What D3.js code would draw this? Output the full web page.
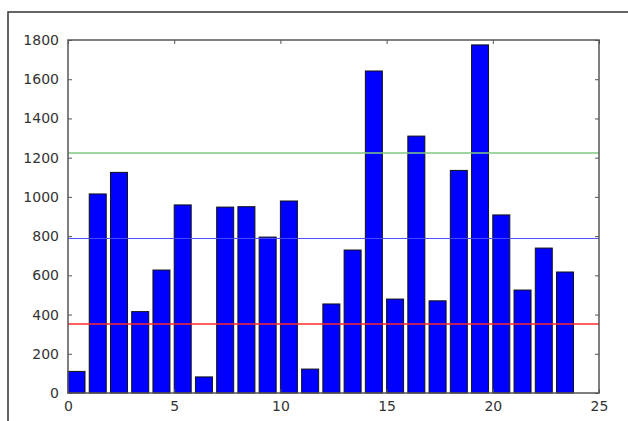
<!DOCTYPE html>
<html>
<head>
<meta charset="utf-8">
<script src="https://cdn.jsdelivr.net/npm/d3@7"></script>
<style>
  body { margin: 0; background: #fff; }
  svg { display: block; }
  .tick text { font-family: "DejaVu Sans", sans-serif; font-size: 14px; fill: #333; }
</style>
</head>
<body>
<div id="chart"></div>
<script>
// bar heights, one per index 0..23
const counts = [110, 1015, 1125, 415, 627, 959, 82, 948, 950, 795, 979, 122,
                454, 729, 1642, 479, 1310, 470, 1135, 1775, 908, 525, 739, 617];
// horizontal reference lines (mean +/- spread)
const refValues = [1224, 788, 352];
const refColors = ['#7fc97f', '#4d4dff', '#ff2a2a'];
const xTicks = [0, 5, 10, 15, 20, 25];
const yTicks = [0, 200, 400, 600, 800, 1000, 1200, 1400, 1600, 1800];

const width = 628;
const height = 421;
const margin = {top: 40, right: 29, bottom: 28, left: 68};

const svg = d3.select('#chart')
    .append('svg')
    .attr('width', width)
    .attr('height', height);

// figure border, only top and left visible in the screenshot
svg.append('path')
    .attr('d', `M8,${height} V12 H${width}`)
    .attr('fill', 'none')
    .attr('stroke', '#333')
    .attr('stroke-width', 1.5);

const x = d3.scaleLinear().domain([0, 25]).range([margin.left, width - margin.right]);
const y = d3.scaleLinear().domain([0, 1800]).range([height - margin.bottom, margin.top]);

const g = svg.append('g');

g.selectAll('rect.bar')
    .data(counts)
    .enter()
    .append('rect')
    .attr('class', 'bar')
    .attr('x', (d, i) => x(i))
    .attr('width', x(0.8) - x(0))
    .attr('y', d => y(d))
    .attr('height', d => y(0) - y(d))
    .attr('fill', '#0000ff')
    .attr('stroke', '#111')
    .attr('stroke-width', 1);

g.selectAll('line.ref')
    .data(refValues)
    .enter()
    .append('line')
    .attr('class', 'ref')
    .attr('x1', x(0))
    .attr('x2', x(25))
    .attr('y1', d => y(d))
    .attr('y2', d => y(d))
    .attr('stroke', (d, i) => refColors[i])
    .attr('stroke-width', (d, i) => i == 1 ? 1 : 1.5);

// axes with inward ticks, classic matplotlib style
const tickLen = 4;
const bottomAxis = d3.axisBottom(x).tickValues(xTicks).tickFormat(d3.format('d'))
    .tickSizeInner(-tickLen).tickSizeOuter(0).tickPadding(8);
const topAxis = d3.axisTop(x).tickValues(xTicks).tickFormat('')
    .tickSizeInner(-tickLen).tickSizeOuter(0);
const leftAxis = d3.axisLeft(y).tickValues(yTicks).tickFormat(d3.format('d'))
    .tickSizeInner(-tickLen).tickSizeOuter(0).tickPadding(9);
const rightAxis = d3.axisRight(y).tickValues(yTicks).tickFormat('')
    .tickSizeInner(-tickLen).tickSizeOuter(0);

const axes = [
    [bottomAxis, `translate(0,${y(0)})`],
    [topAxis, `translate(0,${y(1800)})`],
    [leftAxis, `translate(${x(0)},0)`],
    [rightAxis, `translate(${x(25)},0)`],
];
for (const [ax, tr] of axes) {
    const a = svg.append('g').attr('transform', tr).call(ax);
    a.select('.domain').remove();
    a.selectAll('.tick line').attr('stroke', '#555');
}

// axes frame
svg.append('rect')
    .attr('x', x(0))
    .attr('y', y(1800))
    .attr('width', x(25) - x(0))
    .attr('height', y(0) - y(1800))
    .attr('fill', 'none')
    .attr('stroke', '#555')
    .attr('stroke-width', 1.5);
</script>
</body>
</html>
